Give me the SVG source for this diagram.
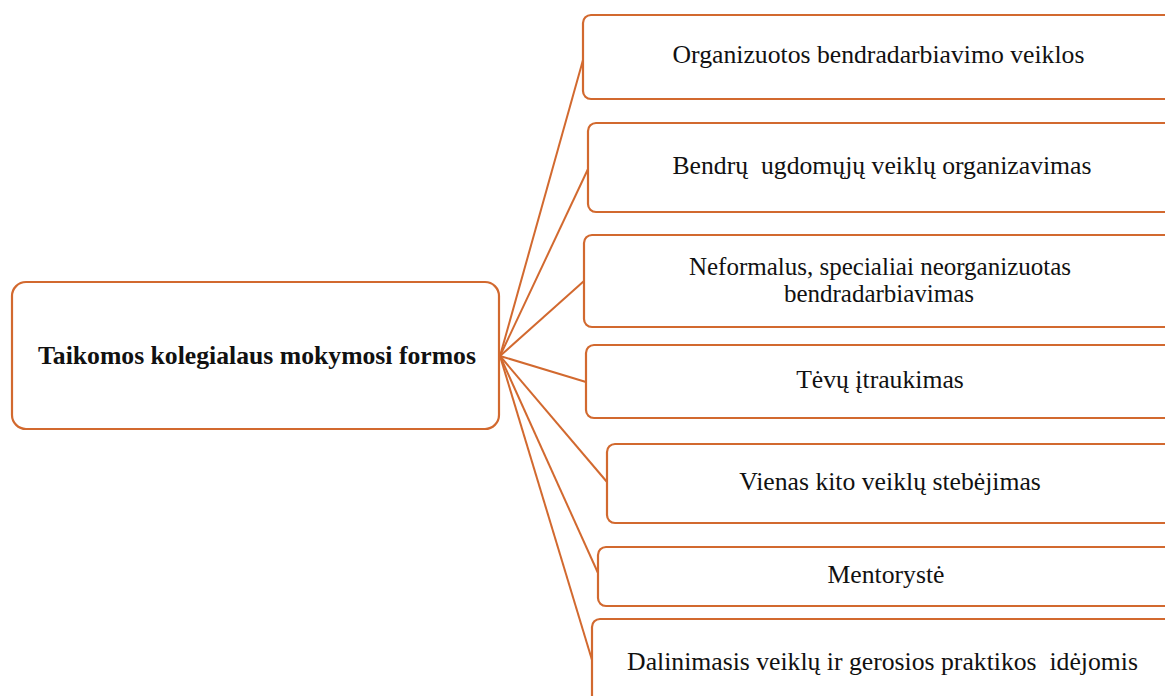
<svg xmlns="http://www.w3.org/2000/svg" width="1165" height="696" viewBox="0 0 1165 696">
<style>
.box{fill:#fff;stroke:#D2692F;stroke-width:2.2}
.con{stroke:#D2692F;stroke-width:2;fill:none}
text{font-family:"Liberation Serif","Times New Roman",serif;font-size:25.7px;fill:#111;text-anchor:middle;white-space:pre}
.b{font-weight:bold}
.t{font-size:25px}
</style>
<rect width="1165" height="696" fill="#fff"/>
<g id="connectors">
<line class="con" x1="500" y1="356" x2="583" y2="60"/>
<line class="con" x1="500" y1="356" x2="588" y2="169"/>
<line class="con" x1="500" y1="356" x2="584" y2="281"/>
<line class="con" x1="500" y1="356" x2="586" y2="382"/>
<line class="con" x1="500" y1="356" x2="607" y2="482"/>
<line class="con" x1="500" y1="356" x2="598" y2="573"/>
<line class="con" x1="500" y1="356" x2="592" y2="660"/>
</g>
<g id="root">
<rect class="box" x="12" y="282" width="487" height="147" rx="14"/>
<text class="b" x="257" y="364">Taikomos kolegialaus mokymosi formos</text>
</g>
<g id="n1">
<rect class="box" x="583" y="15" width="620" height="84" rx="8"/>
<text x="878.5" y="63">Organizuotos bendradarbiavimo veiklos</text>
</g>
<g id="n2">
<rect class="box" x="588" y="123" width="620" height="89" rx="8"/>
<text x="882" y="174" xml:space="preserve">Bendrų  ugdomųjų veiklų organizavimas</text>
</g>
<g id="n3">
<rect class="box" x="584" y="235" width="620" height="92" rx="8"/>
<text class="t" x="880" y="275">Neformalus, specialiai neorganizuotas</text>
<text class="t" x="879" y="302">bendradarbiavimas</text>
</g>
<g id="n4">
<rect class="box" x="586" y="345" width="620" height="73" rx="8"/>
<text x="880" y="388">Tėvų įtraukimas</text>
</g>
<g id="n5">
<rect class="box" x="607" y="444" width="620" height="79" rx="8"/>
<text x="890" y="490">Vienas kito veiklų stebėjimas</text>
</g>
<g id="n6">
<rect class="box" x="598" y="547" width="620" height="59" rx="8"/>
<text x="886" y="583">Mentorystė</text>
</g>
<g id="n7">
<rect class="box" x="592" y="619" width="620" height="120" rx="8"/>
<text x="882.5" y="670" xml:space="preserve">Dalinimasis veiklų ir gerosios praktikos  idėjomis</text>
</g>
</svg>
